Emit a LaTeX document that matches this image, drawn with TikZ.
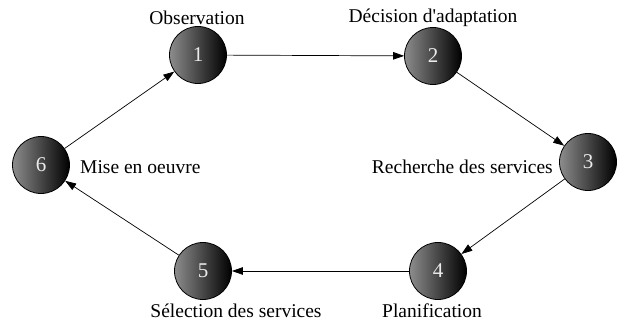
\documentclass[tikz,border=0pt]{standalone}
\usepackage{fontspec}
\setmainfont{Liberation Serif}[Ligatures=TeXOff]
\usetikzlibrary{arrows.meta}
\begin{document}
\begin{tikzpicture}[x=1pt,y=1pt,
  state/.style={circle,draw=black,line width=0.8pt,minimum size=57pt,inner sep=0pt,
    left color=black!45,right color=black,shading angle=90,text=white!92!black,font=\fontsize{21}{22}\selectfont},
  lbl/.style={font=\fontsize{19.5}{21}\selectfont,inner sep=0pt},
  conn/.style={line width=0.7pt,-{Triangle[length=11pt,width=7.5pt]}}]
\useasboundingbox (0,0) rectangle (621,322);
\node[state] (n1) at (198,267) {1};
\node[state] (n2) at (433,266) {2};
\node[state] (n3) at (588,160) {3};
\node[state] (n4) at (438,51) {4};
\node[state] (n5) at (203,51) {5};
\node[state] (n6) at (41,157) {6};
\node[lbl] (l1) at (197,304) {Observation};
\node[lbl] (l2) at (433,304) {Décision d'adaptation};
\node[lbl,anchor=east] (l3) at (553,155) {Recherche des services};
\node[lbl,anchor=west] (l6) at (80,155) {Mise en oeuvre};
\node[lbl] (l5) at (236,11) {Sélection des services};
\node[lbl] (l4) at (432,11) {Planification};
\draw[conn] (n1) -- (n2);
\draw[conn] (n2) -- (n3);
\draw[conn] (n3) -- (n4);
\draw[conn] (n4) -- (n5);
\draw[conn] (n5) -- (n6);
\draw[conn] (n6) -- (n1);
\end{tikzpicture}
\end{document}
